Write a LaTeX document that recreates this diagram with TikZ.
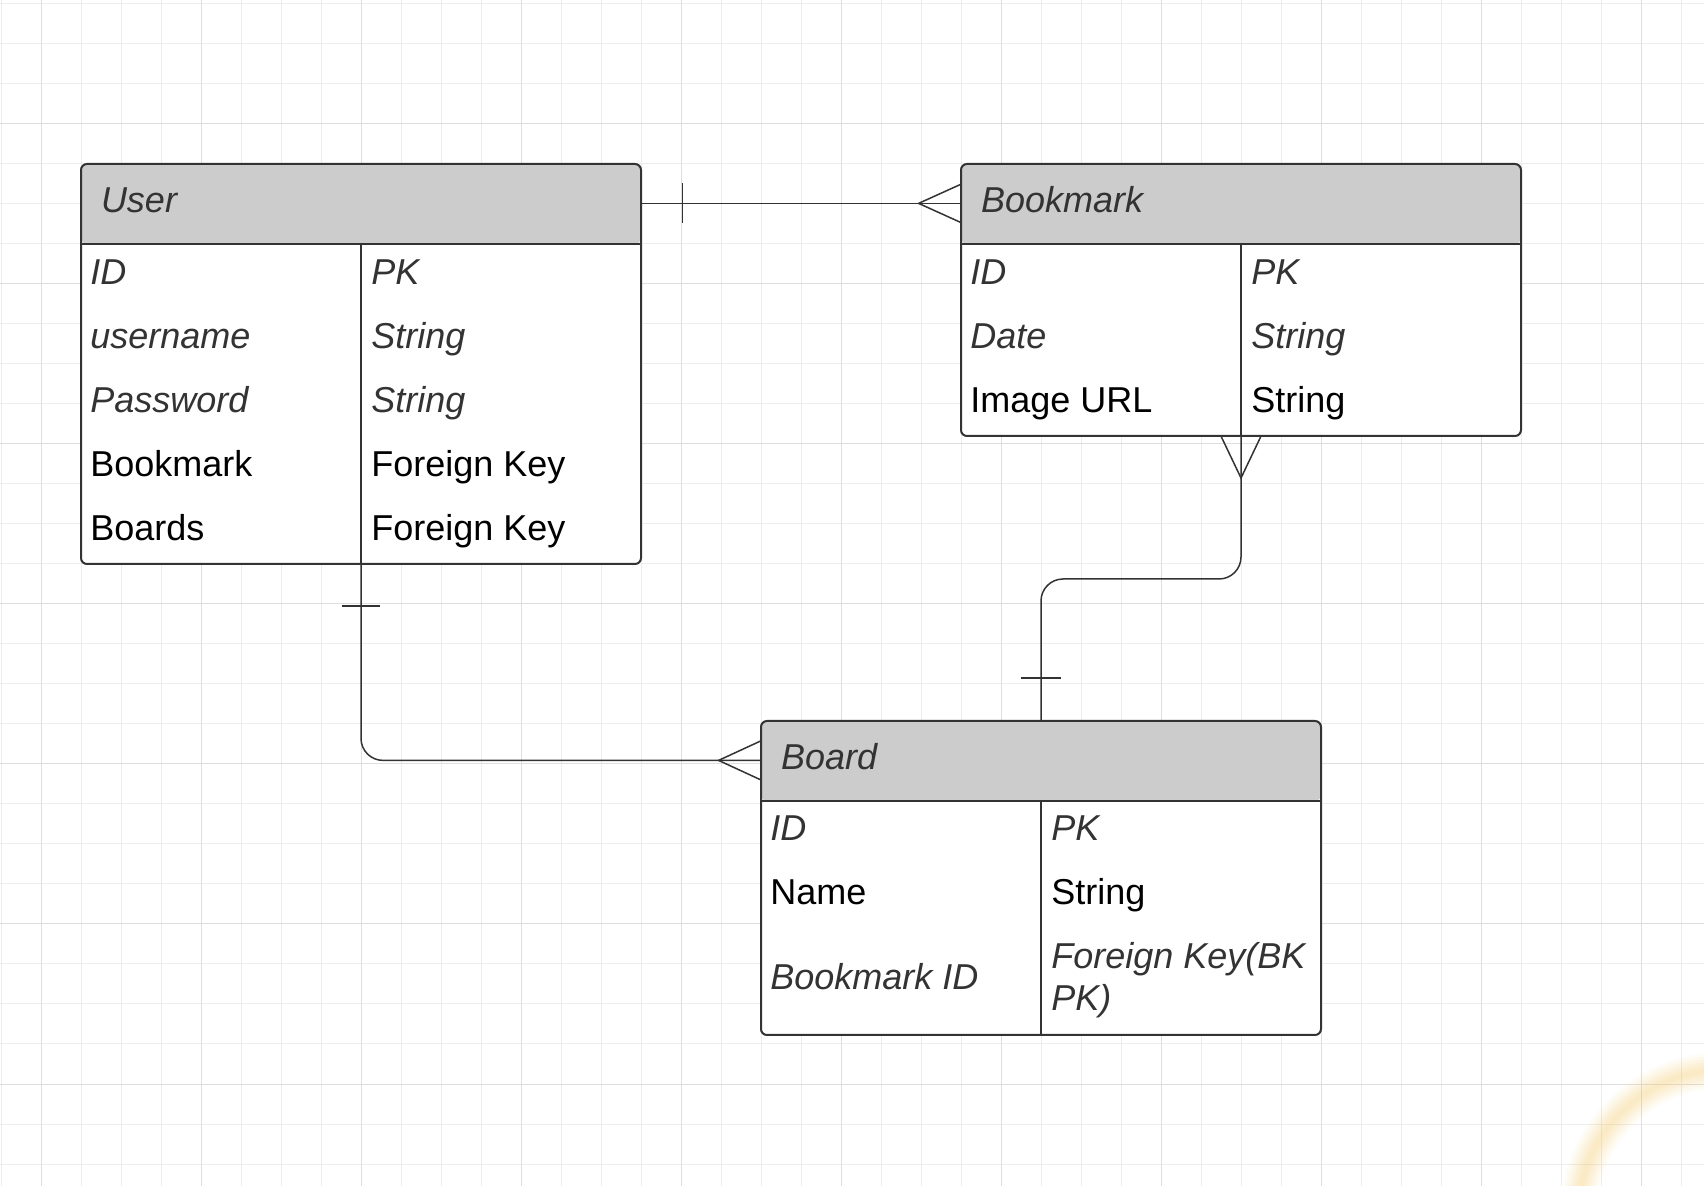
\documentclass[tikz,border=0pt]{standalone}
\usepackage{fontspec}
\setmainfont{Liberation Sans}
\usetikzlibrary{calc}
\definecolor{ink}{HTML}{333333}
\definecolor{hdrgray}{HTML}{CCCCCC}
\definecolor{gridlo}{HTML}{EDEDED}
\definecolor{gridhi}{HTML}{DEDEDE}
\definecolor{glow}{HTML}{F5CF7A}

\begin{document}
\begin{tikzpicture}[x=1pt, y=-1pt,
    tbl/.style={draw=ink, line width=1pt, fill=white, rounded corners=3pt, minimum width=280pt, inner sep=0pt,
        path picture={\fill[hdrgray] (path picture bounding box.north west) rectangle ([yshift=-40pt]path picture bounding box.north east);}},
    head/.style={minimum width=280pt, minimum height=40pt, inner sep=0pt, text width=260pt, align=left,
        text height=13pt, text depth=4pt, font=\fontsize{18}{21}\selectfont\itshape, text=ink},
    fld/.style={anchor=base west, inner sep=0pt, font=\fontsize{18}{21}\selectfont},
    fldi/.style={fld, font=\fontsize{18}{21}\selectfont\itshape, text=ink},
    conn/.style={draw=ink, line width=0.75pt},
    rule/.style={draw=ink, line width=1pt}]
    \useasboundingbox (0,0) rectangle (852,593);

    % Grid
    \foreach \x in {0.5,20.5,...,852} \draw[gridlo, line width=0.5pt] (\x,0) -- (\x,593);
    \foreach \y in {2,22,...,593} \draw[gridlo, line width=0.5pt] (0,\y) -- (852,\y);
    \foreach \x in {20.5,100.5,...,852} \draw[gridhi, line width=0.5pt] (\x,0) -- (\x,593);
    \foreach \y in {62,142,...,593} \draw[gridhi, line width=0.5pt] (0,\y) -- (852,\y);

    % Glow in the corner
    \begin{scope}
        \clip (0,0) rectangle (852,593);
        \foreach \w/\o in {18/0.06, 15/0.08, 12/0.09, 9/0.1, 6/0.1, 3/0.1}
            \draw[glow, line width=\w pt, opacity=\o] (862,608) circle (73pt);
    \end{scope}

    % User table
    \node[tbl, minimum height=200pt] (user) at (180.5,182) {};
    \node[head, anchor=north] (userhead) at (user.north) {User};
    \draw[rule] (userhead.south west) -- (userhead.south east);
    \draw[rule] (userhead.south) -- (user.south);
    \foreach \s/\a/\b [count=\i] in {fldi/ID/PK, fldi/username/String, fldi/Password/String, fld/Bookmark/Foreign Key, fld/Boards/Foreign Key}{
        \node[\s] (userk\i) at (45,110.5+32*\i) {\a};
        \node[\s] (usert\i) at (185.5,110.5+32*\i) {\b};
    }

    % Bookmark table
    \node[tbl, minimum height=136pt] (bm) at (620.5,150) {};
    \node[head, anchor=north] (bmhead) at (bm.north) {Bookmark};
    \draw[rule] (bmhead.south west) -- (bmhead.south east);
    \draw[rule] (bmhead.south) -- (bm.south);
    \foreach \s/\a/\b [count=\i] in {fldi/ID/PK, fldi/Date/String, fld/Image URL/String}{
        \node[\s] (bmk\i) at (485,110.5+32*\i) {\a};
        \node[\s] (bmt\i) at (625.5,110.5+32*\i) {\b};
    }

    % Board table
    \node[tbl, minimum height=157pt] (board) at (520.5,439) {};
    \node[head, anchor=north] (boardhead) at (board.north) {Board};
    \draw[rule] (boardhead.south west) -- (boardhead.south east);
    \draw[rule] (boardhead.south) -- (board.south);
    \node[fldi] (boardk1) at (385,420.5) {ID};
    \node[fldi] (boardt1) at (525.5,420.5) {PK};
    \node[fld] (boardk2) at (385,452.5) {Name};
    \node[fld] (boardt2) at (525.5,452.5) {String};
    \node[fldi] (boardk3) at (385,495) {Bookmark ID};
    \node[fldi, anchor=west, align=left, font=\fontsize{18}{21.3}\selectfont\itshape] (boardt3) at (525.5,490) {Foreign Key(BK\\PK)};

    % User -- Bookmark (one to many)
    \draw[conn] (userhead.east) -- (bmhead.west);
    \draw[conn] ($(userhead.east)+(20.5,-10)$) -- ($(userhead.east)+(20.5,10)$);
    \draw[conn] ($(bmhead.west)+(0,-9.5)$) -- ($(bmhead.west)+(-21,0)$) -- ($(bmhead.west)+(0,9.5)$);

    % Bookmark -- Board
    \draw[conn, rounded corners=11pt] (bm.south) -- ++(0,71) -| (boardhead.north);
    \draw[conn] ($(bm.south)+(-9.8,0)$) -- ($(bm.south)+(0,20.5)$) -- ($(bm.south)+(9.8,0)$);
    \draw[conn] ($(boardhead.north)+(-9.8,-21)$) -- ($(boardhead.north)+(9.8,-21)$);

    % User -- Board
    \draw[conn, rounded corners=11pt] (user.south) |- (boardhead.west);
    \draw[conn] ($(user.south)+(-9.5,20.5)$) -- ($(user.south)+(9.5,20.5)$);
    \draw[conn] ($(boardhead.west)+(0,-9.7)$) -- ($(boardhead.west)+(-21,0)$) -- ($(boardhead.west)+(0,9.7)$);
\end{tikzpicture}
\end{document}
